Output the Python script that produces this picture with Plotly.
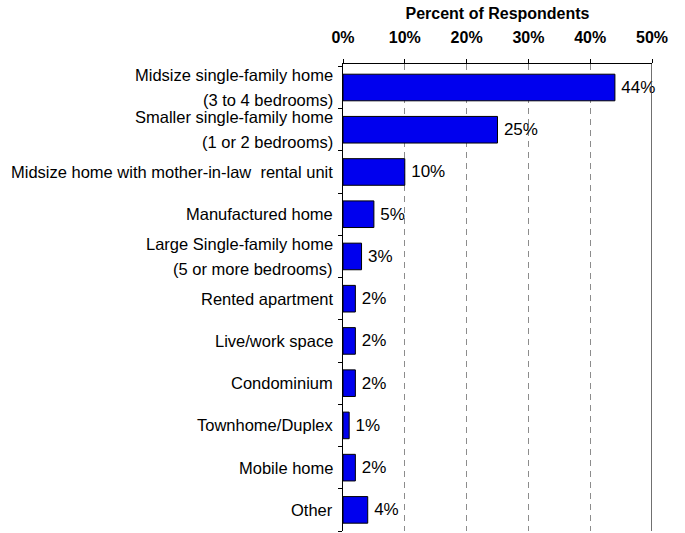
import plotly.graph_objects as go

# Housing preference survey: share of respondents choosing each home type
categories = [
    "Midsize single-family home|(3 to 4 bedrooms)",
    "Smaller single-family home|(1 or 2 bedrooms)",
    "Midsize home with mother-in-law  rental unit",
    "Manufactured home",
    "Large Single-family home|(5 or more bedrooms)",
    "Rented apartment",
    "Live/work space",
    "Condominium",
    "Townhome/Duplex",
    "Mobile home",
    "Other",
]
percents = [44, 25, 10, 5, 3, 2, 2, 2, 1, 2, 4]
x_ticks = [0, 10, 20, 30, 40, 50]
x_tick_labels = ["0%", "10%", "20%", "30%", "40%", "50%"]

FONT = "Liberation Sans, Arial, sans-serif"

# Value labels, with a thin leading space to keep them off the bar ends
value_labels = ["\u2009" + str(p) + "%" for p in percents]

fig = go.Figure(
    go.Bar(
        x=percents,
        y=categories,
        orientation="h",
        marker=dict(color="#0000EE", line=dict(color="#000000", width=1)),
        text=value_labels,
        textposition="outside",
        constraintext="none",
        cliponaxis=False,
        textfont=dict(family=FONT, size=17, color="#000000"),
        width=0.63,
        hoverinfo="x+y",
    )
)

# Category labels drawn beside the axis; two-line names get wider line spacing
annotations = []
for cat in categories:
    lines = cat.split("|")
    if len(lines) == 1:
        offsets = [0]
    else:
        offsets = [12.5, -12.5]
    for line, dy in zip(lines, offsets):
        annotations.append(
            dict(
                x=0, xref="paper", y=cat, yref="y",
                text=line, showarrow=False,
                xanchor="right", yanchor="middle",
                xshift=-8, yshift=dy,
                font=dict(family=FONT, size=16.5, color="#000000"),
            )
        )

fig.update_layout(
    width=685,
    height=533,
    margin=dict(l=343, r=33, t=64, b=2),
    paper_bgcolor="white",
    plot_bgcolor="white",
    showlegend=False,
    bargap=0.37,
    annotations=annotations,
    xaxis=dict(
        side="top",
        range=[0, 50],
        tickvals=x_ticks,
        ticktext=x_tick_labels,
        ticks="outside",
        ticklen=4,
        tickcolor="#000000",
        ticklabelstandoff=10,
        tickfont=dict(family=FONT, size=16, color="#000000", weight="bold"),
        showline=True,
        linecolor="#000000",
        linewidth=1,
        showgrid=True,
        gridcolor="#8c8c8c",
        griddash="6px,5px",
        gridwidth=1,
        zeroline=False,
        title=dict(
            text="<b>Percent of Respondents</b>",
            font=dict(family=FONT, size=16, color="#000000"),
            standoff=4,
        ),
    ),
    yaxis=dict(
        categoryorder="array",
        categoryarray=categories[::-1],
        autorange=True,
        showticklabels=False,
        ticks="outside",
        tickson="boundaries",
        ticklen=4,
        tickcolor="#000000",
        showline=True,
        linecolor="#000000",
        linewidth=1,
        showgrid=False,
        zeroline=False,
    ),
    shapes=[
        dict(type="line", xref="x", yref="paper", x0=50, x1=50, y0=0, y1=1,
             line=dict(color="#404040", width=1.5)),
    ],
)

fig.write_html("out.html")
